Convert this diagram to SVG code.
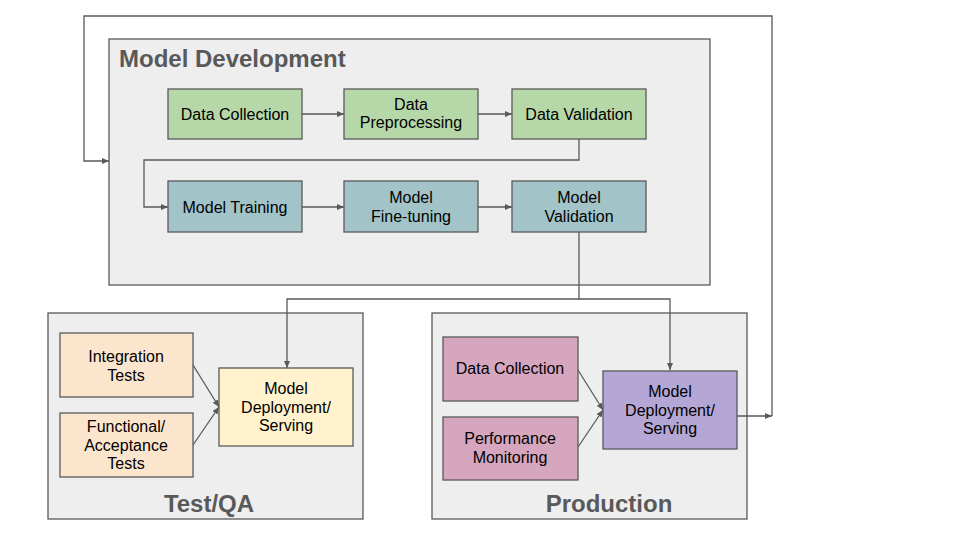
<svg xmlns="http://www.w3.org/2000/svg" width="960" height="540" viewBox="0 0 960 540">
<style>
  .container { fill: #eeeeee; stroke: #595959; stroke-width: 1.3; }
  .node { stroke: #595959; stroke-width: 1.3; }
  .green { fill: #b6d7a8; }
  .teal { fill: #a2c4c9; }
  .peach { fill: #fce5cd; }
  .yellow { fill: #fff2cc; }
  .pink { fill: #d5a6bd; }
  .purple { fill: #b4a7d6; }
  .title { font-family: "Liberation Sans", Arial, sans-serif; font-weight: bold; font-size: 24px; fill: #595959; }
  .label { font-family: "Liberation Sans", Arial, sans-serif; font-size: 16px; fill: #000000; text-anchor: middle; }
  .conn { fill: none; stroke: #595959; stroke-width: 1.3; }
</style>
<defs>
  <marker id="arrow" markerUnits="userSpaceOnUse" markerWidth="8" markerHeight="8" refX="7" refY="3" orient="auto">
    <path d="M0,0 L7,3 L0,6 z" fill="#595959"/>
  </marker>
</defs>
<rect width="960" height="540" fill="#ffffff"/>

<g id="model-development">
  <rect class="container" x="109" y="39" width="601" height="246"/>
  <text class="title" x="119" y="67">Model Development</text>
</g>
<g id="test-qa">
  <rect class="container" x="48" y="313" width="315" height="206"/>
  <text class="title" x="209" y="512" text-anchor="middle">Test/QA</text>
</g>
<g id="production">
  <rect class="container" x="432" y="313" width="315" height="206"/>
  <text class="title" x="609" y="512" text-anchor="middle">Production</text>
</g>

<g id="connectors">
  <path class="conn" d="M302,114 L344,114" marker-end="url(#arrow)"/>
  <path class="conn" d="M478,114 L512,114" marker-end="url(#arrow)"/>
  <path class="conn" d="M579,139 L579,160 L144,160 L144,207 L168,207" marker-end="url(#arrow)"/>
  <path class="conn" d="M302,207 L344,207" marker-end="url(#arrow)"/>
  <path class="conn" d="M478,207 L512,207" marker-end="url(#arrow)"/>
  <path class="conn" d="M579,232 L579,299 L287,299 L287,368" marker-end="url(#arrow)"/>
  <path class="conn" d="M579,299 L670,299 L670,370" marker-end="url(#arrow)"/>
  <path class="conn" d="M193,365 L219,407" marker-end="url(#arrow)"/>
  <path class="conn" d="M193,445 L219,407" marker-end="url(#arrow)"/>
  <path class="conn" d="M578,370 L603,410" marker-end="url(#arrow)"/>
  <path class="conn" d="M578,447 L603,410" marker-end="url(#arrow)"/>
  <path class="conn" d="M737,416 L772,416" marker-end="url(#arrow)"/>
  <path class="conn" d="M772,416 L772,16 L84,16 L84,161 L109,161" marker-end="url(#arrow)"/>
</g>

<g id="data-collection">
  <rect class="node green" x="168" y="89" width="134" height="50"/>
  <text class="label" x="235" y="120">Data Collection</text>
</g>
<g id="data-preprocessing">
  <rect class="node green" x="344" y="89" width="134" height="50"/>
  <text class="label" x="411" y="110">Data</text>
  <text class="label" x="411" y="128">Preprocessing</text>
</g>
<g id="data-validation">
  <rect class="node green" x="512" y="89" width="134" height="50"/>
  <text class="label" x="579" y="120">Data Validation</text>
</g>
<g id="model-training">
  <rect class="node teal" x="168" y="181" width="134" height="51"/>
  <text class="label" x="235" y="213">Model Training</text>
</g>
<g id="model-fine-tuning">
  <rect class="node teal" x="344" y="181" width="134" height="51"/>
  <text class="label" x="411" y="203">Model</text>
  <text class="label" x="411" y="222">Fine-tuning</text>
</g>
<g id="model-validation">
  <rect class="node teal" x="512" y="181" width="134" height="51"/>
  <text class="label" x="579" y="203">Model</text>
  <text class="label" x="579" y="222">Validation</text>
</g>

<g id="integration-tests">
  <rect class="node peach" x="60" y="333" width="133" height="64"/>
  <text class="label" x="126" y="362">Integration</text>
  <text class="label" x="126" y="381">Tests</text>
</g>
<g id="functional-acceptance-tests">
  <rect class="node peach" x="60" y="413" width="133" height="64"/>
  <text class="label" x="126" y="432">Functional/</text>
  <text class="label" x="126" y="451">Acceptance</text>
  <text class="label" x="126" y="469">Tests</text>
</g>
<g id="qa-model-deployment">
  <rect class="node yellow" x="219" y="368" width="134" height="78"/>
  <text class="label" x="286" y="394">Model</text>
  <text class="label" x="286" y="413">Deployment/</text>
  <text class="label" x="286" y="431">Serving</text>
</g>

<g id="prod-data-collection">
  <rect class="node pink" x="443" y="337" width="135" height="64"/>
  <text class="label" x="510" y="374">Data Collection</text>
</g>
<g id="performance-monitoring">
  <rect class="node pink" x="443" y="417" width="135" height="63"/>
  <text class="label" x="510" y="444">Performance</text>
  <text class="label" x="510" y="463">Monitoring</text>
</g>
<g id="prod-model-deployment">
  <rect class="node purple" x="603" y="371" width="134" height="78"/>
  <text class="label" x="670" y="397">Model</text>
  <text class="label" x="670" y="416">Deployment/</text>
  <text class="label" x="670" y="434">Serving</text>
</g>
</svg>
